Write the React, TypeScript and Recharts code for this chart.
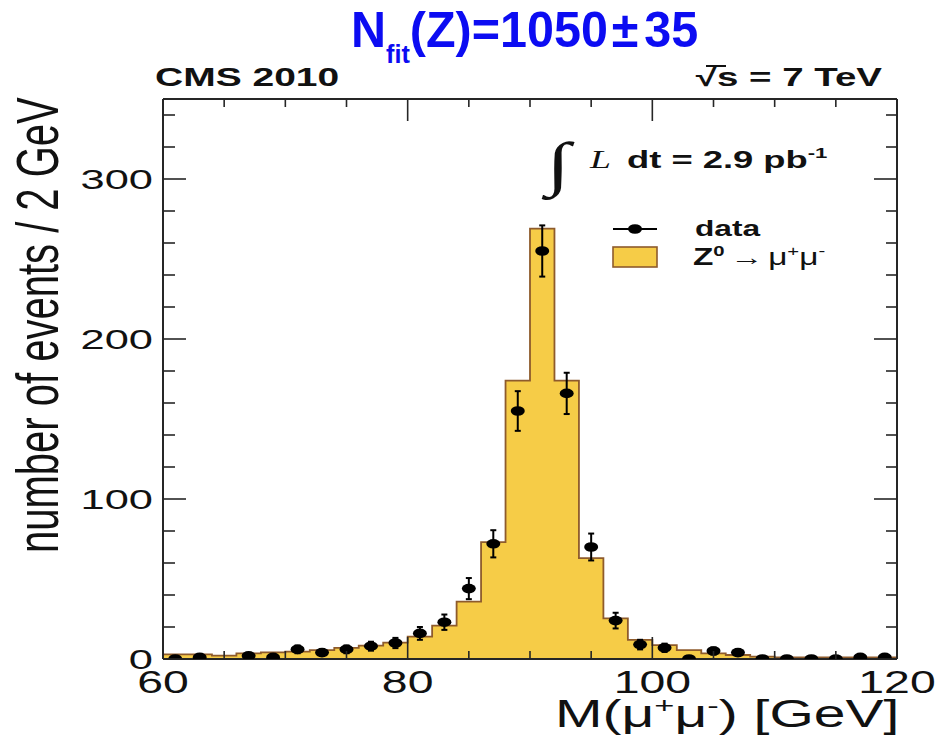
import React from 'react';
import {
  ComposedChart,
  Area,
  Scatter,
  ErrorBar,
  XAxis,
  YAxis,
  Legend,
  Customized,
} from 'recharts';

// Lower edges of the 2 GeV mass bins
const binLow = [
  60, 62, 64, 66, 68, 70, 72, 74, 76, 78, 80, 82, 84, 86, 88,
  90, 92, 94, 96, 98, 100, 102, 104, 106, 108, 110, 112, 114, 116, 118,
];
// Z -> mu mu simulation, events per bin
const mcCounts = [
  2.9, 2.9, 2.1, 3.5, 4.1, 4.6, 5.6, 7.0, 8.3, 10.2, 14.0, 20.8, 35.8, 73.0, 174.0,
  269.0, 174.0, 63.0, 25.4, 11.9, 8.7, 5.6, 3.5, 2.5, 1.5, 1.0, 1.0, 1.0, 1.0, 1.0,
];
// Observed events per bin (null = empty bin, not drawn)
const dataCounts = [
  0, 1, null, 2, 1, 6, 4, 6, 8, 10, 16, 23, 44, 72, 155,
  255, 166, 70, 24, 9, 7, 0, 5, 4, 0, 0, 0, 0, 1, 1,
];
// Statistical uncertainty on each observed bin
const dataErrors = [
  0, 1, 0, 1.4, 1, 2.4, 2, 2.4, 2.8, 3.2, 4, 4.8, 6.6, 8.5, 12.4,
  16, 12.9, 8.4, 4.9, 3, 2.6, 0, 2.2, 2, 0, 0, 0, 0, 1, 1,
];

const xTicks = [60, 65, 70, 75, 80, 85, 90, 95, 100, 105, 110, 115, 120];
const xMajor = [60, 80, 100, 120];
const yTicks = [0, 20, 40, 60, 80, 100, 120, 140, 160, 180, 200, 220, 240, 260, 280, 300, 320, 340];
const yMajor = [0, 100, 200, 300];

const BIN_WIDTH = 2;
const histRows = [
  ...binLow.map((x, i) => ({ x, y: mcCounts[i] })),
  { x: binLow[binLow.length - 1] + BIN_WIDTH, y: mcCounts[mcCounts.length - 1] },
];
const pointRows = binLow
  .map((x, i) => ({ x: x + BIN_WIDTH / 2, y: dataCounts[i], err: dataErrors[i] }))
  .filter((r) => r.y !== null);

const FRAME = '#262626';
const FILL = '#F6CC47';
const EDGE = '#8E5B2C';
const INK = '#111111';
const SANS = '"Liberation Sans", Arial, Helvetica, sans-serif';
const SERIF = '"Liberation Serif", "Times New Roman", serif';

type STextProps = {
  x: number;
  y: number;
  sx?: number;
  size: number;
  anchor?: 'start' | 'middle' | 'end';
  weight?: string;
  fill?: string;
  family?: string;
  italic?: boolean;
  children?: React.ReactNode;
};

// Horizontally widened text, anchored at (x, y)
function SText({ x, y, sx = 1.5, size, anchor = 'start', weight = 'normal', fill = INK, family = SANS, italic, children }: STextProps) {
  return (
    <text
      transform={`translate(${x},${y}) scale(${sx},1)`}
      fontSize={size}
      textAnchor={anchor}
      fontWeight={weight}
      fill={fill}
      fontFamily={family}
      fontStyle={italic ? 'italic' : 'normal'}
    >
      {children}
    </text>
  );
}

const BottomTick = (props: any) => {
  const { x, y, payload } = props;
  const v = payload.value;
  const major = xMajor.includes(v);
  return (
    <g>
      <line x1={x} x2={x} y1={y} y2={y - (major ? 22 : 8)} stroke={FRAME} strokeWidth={1.6} />
      {major && (
        <SText x={x} y={y + 34} sx={1.45} size={32} anchor="middle">
          {v}
        </SText>
      )}
    </g>
  );
};

const TopTick = (props: any) => {
  const { x, y, payload } = props;
  const major = xMajor.includes(payload.value);
  return <line x1={x} x2={x} y1={y} y2={y + (major ? 22 : 8)} stroke={FRAME} strokeWidth={1.6} />;
};

const LeftTick = (props: any) => {
  const { x, y, payload } = props;
  const v = payload.value;
  const major = yMajor.includes(v);
  return (
    <g>
      <line x1={x} x2={x + (major ? 23 : 12)} y1={y} y2={y} stroke={FRAME} strokeWidth={1.6} />
      {major && (
        <SText x={x - 10} y={y + 10} sx={1.55} size={28} anchor="end">
          {v}
        </SText>
      )}
    </g>
  );
};

const RightTick = (props: any) => {
  const { x, y, payload } = props;
  const major = yMajor.includes(payload.value);
  return <line x1={x} x2={x - (major ? 23 : 11)} y1={y} y2={y} stroke={FRAME} strokeWidth={1.6} />;
};

const DataDot = (props: any) => {
  const { cx, cy } = props;
  if (cx == null || cy == null) return null;
  return <ellipse cx={cx} cy={cy} rx={7} ry={4.8} fill="#000" />;
};

const LegendBox = () => (
  <svg width={260} height={66} style={{ display: 'block', overflow: 'visible' }}>
    <line x1={13} x2={57} y1={17} y2={17} stroke="#000" strokeWidth={2} />
    <ellipse cx={35} cy={17} rx={7} ry={4.8} fill="#000" />
    <SText x={95} y={24} sx={1.44} size={22} weight="bold">data</SText>
    <rect x={13} y={35} width={44} height={20} fill={FILL} stroke={EDGE} strokeWidth={1.6} />
    <text transform="translate(93,53) scale(1.45,1)" fontFamily={SANS} fontSize={23} fill={INK}>
      <tspan fontWeight="bold">Z</tspan>
      <tspan fontWeight="bold" fontSize={14} dy={-9}>0</tspan>
      <tspan dy={9} dx={4}>{'\u2192'}</tspan>
      <tspan dx={3}>{'\u03bc'}</tspan>
      <tspan fontSize={14} dy={-9}>+</tspan>
      <tspan dy={9}>{'\u03bc'}</tspan>
      <tspan fontSize={14} dy={-9}>-</tspan>
    </text>
  </svg>
);

const Annotations = () => (
  <g>
    <text transform="translate(351,47) scale(0.97,1)" fontFamily={SANS} fontWeight="bold" fontSize={50} fill="#0c0cf2">
      N
      <tspan fontSize={26} dy={16}>fit</tspan>
      <tspan dy={-16}>(Z)=1050</tspan>
      <tspan dx={4}>±</tspan>
      <tspan dx={6}>35</tspan>
    </text>
    <SText x={155} y={86} sx={1.56} size={25} weight="bold">CMS 2010</SText>
    <SText x={882} y={86} sx={1.54} size={25} weight="bold" anchor="end">{'\u221As = 7 TeV'}</SText>
    <line x1={706} x2={726} y1={66} y2={66} stroke={INK} strokeWidth={2} />

    <SText x={546} y={184} sx={1.45} size={60} family={SERIF}>{'\u222B'}</SText>
    <SText x={590} y={168} sx={1.45} size={26} family={SERIF} italic>L</SText>
    <text transform="translate(627,168) scale(1.58,1)" fontFamily={SANS} fontWeight="bold" fontSize={23} fill={INK}>
      dt = 2.9 pb
      <tspan fontSize={14} dy={-10}>-1</tspan>
    </text>

    <text transform="translate(58,553) scale(1.5,1) rotate(-90)" fontFamily={SANS} fontSize={40} fill={INK}>
      number of events / 2 GeV
    </text>

    <text transform="translate(555,727) scale(1.5,1)" fontFamily={SANS} fontSize={38} fill={INK}>
      M({'\u03bc'}
      <tspan fontSize={23} dy={-14}>+</tspan>
      <tspan dy={14}>{'\u03bc'}</tspan>
      <tspan fontSize={23} dy={-14}>-</tspan>
      <tspan dy={14}>) [GeV]</tspan>
    </text>
  </g>
);

export default function App() {
  return (
    <div style={{ position: 'absolute', left: 0, top: 0, width: 938, height: 742, background: '#fff' }}>
      <ComposedChart
        width={938}
        height={742}
        data={histRows}
        margin={{ top: 98, right: 40, bottom: 0, left: 0 }}
      >
        <XAxis
          xAxisId="main"
          dataKey="x"
          type="number"
          domain={[60, 120]}
          ticks={xTicks}
          interval={0}
          allowDataOverflow
          height={83}
          tickSize={0}
          tickMargin={0}
          tick={BottomTick}
          axisLine={{ stroke: FRAME, strokeWidth: 2 }}
        />
        <XAxis
          xAxisId="top"
          orientation="top"
          dataKey="x"
          type="number"
          domain={[60, 120]}
          ticks={xTicks}
          interval={0}
          allowDataOverflow
          height={1}
          tickSize={0}
          tickMargin={0}
          tick={TopTick}
          axisLine={{ stroke: FRAME, strokeWidth: 2 }}
        />
        <YAxis
          yAxisId="main"
          dataKey="y"
          type="number"
          domain={[0, 350]}
          ticks={yTicks}
          interval={0}
          allowDataOverflow
          width={163}
          tickSize={0}
          tickMargin={0}
          tick={LeftTick}
          axisLine={{ stroke: FRAME, strokeWidth: 2 }}
        />
        <YAxis
          yAxisId="right"
          orientation="right"
          dataKey="y"
          type="number"
          domain={[0, 350]}
          ticks={yTicks}
          interval={0}
          allowDataOverflow
          width={1}
          tickSize={0}
          tickMargin={0}
          tick={RightTick}
          axisLine={{ stroke: FRAME, strokeWidth: 2 }}
        />
        <Area
          xAxisId="main"
          yAxisId="main"
          dataKey="y"
          type="stepAfter"
          fill={FILL}
          fillOpacity={1}
          stroke={EDGE}
          strokeWidth={1.8}
          isAnimationActive={false}
          dot={false}
          activeDot={false}
        />
        <Scatter
          xAxisId="main"
          yAxisId="main"
          data={pointRows}
          dataKey="y"
          shape={DataDot}
          isAnimationActive={false}
        >
          <ErrorBar dataKey="err" direction="y" width={3} stroke="#000" strokeWidth={2} isAnimationActive={false} />
        </Scatter>
        <Legend
          layout="horizontal"
          verticalAlign="middle"
          align="center"
          wrapperStyle={{ position: 'absolute', left: 600, top: 212, width: 260, height: 66 }}
          content={() => <LegendBox />}
        />
        <Customized component={<Annotations />} />
      </ComposedChart>
    </div>
  );
}
